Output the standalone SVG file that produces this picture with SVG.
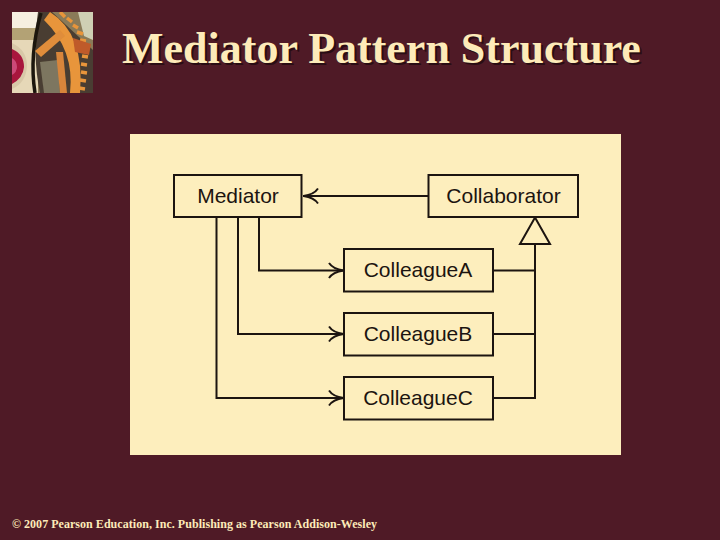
<svg xmlns="http://www.w3.org/2000/svg" width="720" height="540" viewBox="0 0 720 540">
<style>
.bg{fill:#4f1a26}
.title{font-family:"Liberation Serif",serif;font-weight:bold;font-size:44px;fill:#fdebb9;text-shadow:2px 2px 0 #2a0d14}
.foot{font-family:"Liberation Serif",serif;font-weight:bold;font-size:12px;fill:#fdebb9}
.box{fill:#fdeebd;stroke:#1c1410;stroke-width:2}
.lbl{font-family:"Liberation Sans",sans-serif;font-size:21px;fill:#1c1410;text-anchor:middle}
.line{fill:none;stroke:#1c1410;stroke-width:2}
</style>
<defs>
<marker id="open" viewBox="0 0 18 18" refX="17" refY="9" markerWidth="18" markerHeight="18" markerUnits="userSpaceOnUse" orient="auto">
<path d="M2 1.500Q6 7.500 16.500 9Q6 10.500 2 16.500" fill="none" stroke="#1c1410" stroke-width="2"/>
</marker>
<clipPath id="pic"><rect x="12" y="12" width="81" height="81"/></clipPath>
<filter id="soft" x="0" y="0" width="1" height="1"><feGaussianBlur stdDeviation="0.7"/></filter>
</defs>
<rect class="bg" width="720" height="540"/>
<g id="gear-picture" clip-path="url(#pic)">
<g filter="url(#soft)">
<rect x="12" y="12" width="81" height="81" fill="#8a7a58"/>
<rect x="12" y="12" width="26" height="81" fill="#e6d8b8"/>
<rect x="12" y="12" width="26" height="16" fill="#f6efe0"/>
<rect x="12" y="28" width="24" height="12" fill="#b3a274"/>
<path d="M12 43Q27 50 27 66Q26 83 12 89Z" fill="#d8c8a8"/>
<path d="M12 49Q24 54 24 67Q23 78 12 84Z" fill="#a8123c"/>
<path d="M12 58Q17 61 17 67Q17 72 12 75Z" fill="#cc4a78"/>
<path d="M38 12H52L93 50V93H40Q32 55 38 12Z" fill="#4a3e30"/>
<path d="M40 62L58 60L60 93H44Z" fill="#7d7660"/>
<path d="M78 12H93V40L84 36Z" fill="#cfcfb4"/>
<path d="M35 93Q29 55 41 13" fill="none" stroke="#1e1810" stroke-width="3.500"/>
<path d="M50 12Q85 34 80 93H70Q75 50 44 20Z" fill="#e8953a"/>
<path d="M60 12L65 17M67 18L72 22M73 25L78 28M77 32L83 34M80 40L86 41M81 48L87 49M82 56L88 57M81 64L87 65M81 72L87 73M80 80L86 81M79 88L85 89" stroke="#e8953a" stroke-width="3.500"/>
<path d="M35 51L60 30L65 36L41 57Z" fill="#e08d3a"/>
<path d="M56 52H63L67 93H60Z" fill="#d8853a"/>
<path d="M73 38L91 44L89 55L75 52Z" fill="#bf5a2a"/>
</g>
</g>
<text class="title" x="122" y="63">Mediator Pattern Structure</text>
<rect x="130" y="134" width="491" height="321" fill="#fdeebd"/>
<g id="connectors">
<path class="line" marker-end="url(#open)" d="M428.500 196H303"/>
<path class="line" marker-end="url(#open)" d="M259 217V270.500H344"/>
<path class="line" marker-end="url(#open)" d="M238 217V334H344"/>
<path class="line" marker-end="url(#open)" d="M216.500 217V398H344"/>
<path class="line" d="M493 270.500H535M493 334H535M493 398H535V244"/>
<path class="line" d="M535 217.500L550 244H520Z"/>
</g>
<g id="mediator"><rect class="box" x="174" y="175" width="127.500" height="42"/><text class="lbl" x="238" y="202.500">Mediator</text></g>
<g id="collaborator"><rect class="box" x="428.500" y="175" width="149.500" height="42"/><text class="lbl" x="503.500" y="202.500">Collaborator</text></g>
<g id="colleague-a"><rect class="box" x="344" y="249" width="149" height="42.500"/><text class="lbl" x="418" y="276.500">ColleagueA</text></g>
<g id="colleague-b"><rect class="box" x="344" y="313" width="149" height="42.500"/><text class="lbl" x="418" y="340.500">ColleagueB</text></g>
<g id="colleague-c"><rect class="box" x="344" y="377" width="149" height="42.500"/><text class="lbl" x="418" y="404.500">ColleagueC</text></g>
<text class="foot" x="12" y="528" textLength="365" lengthAdjust="spacing">© 2007 Pearson Education, Inc. Publishing as Pearson Addison-Wesley</text>
</svg>
